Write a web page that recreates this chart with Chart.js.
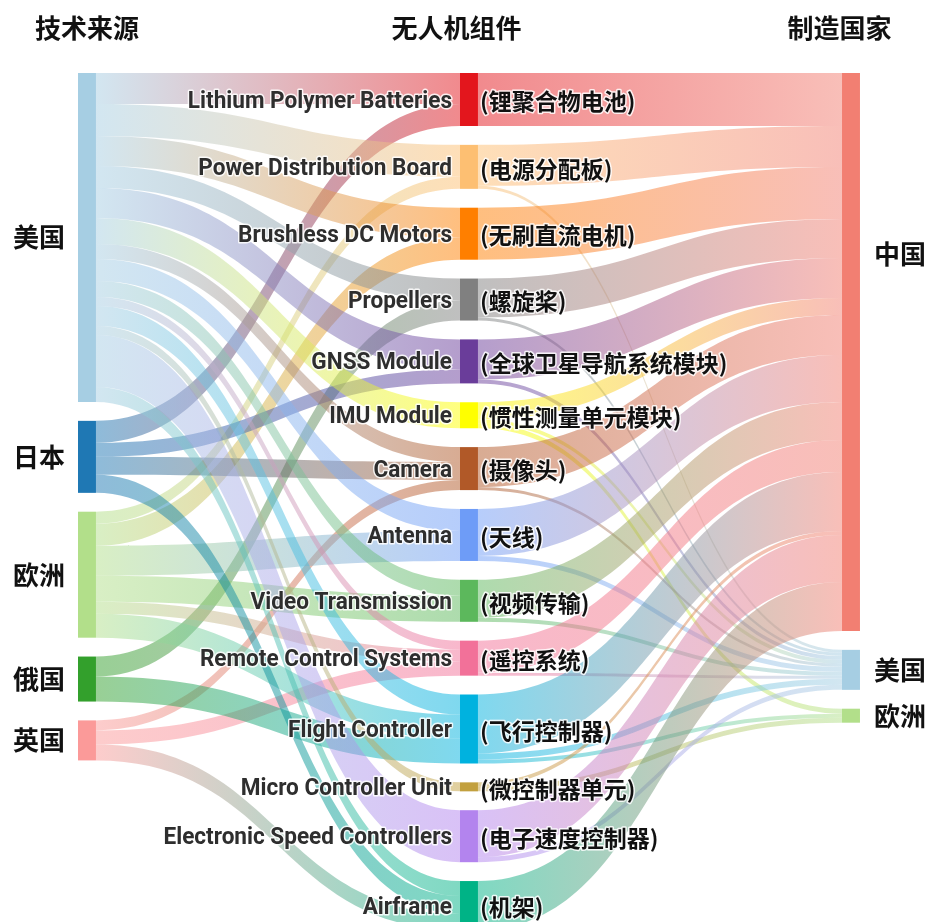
<!DOCTYPE html>
<html>
<head>
<meta charset="utf-8">
<script src="https://cdn.jsdelivr.net/npm/chart.js@4.4.0/dist/chart.umd.min.js"></script>
<style>
  body { margin: 0; background: #fff; }
  #wrap { width: 928px; height: 922px; }
</style>
</head>
<body>
<div id="wrap"><canvas id="sankey" width="928" height="922"></canvas></div>
<script>
const columnTitles = ['技术来源', '无人机组件', '制造国家'];

const sources = ['美国', '日本', '欧洲', '俄国', '英国'];
const sourceColors = ['#a6cee3', '#1f78b4', '#b2df8a', '#33a02c', '#fb9a99'];

const partsEn = ['Lithium Polymer Batteries', 'Power Distribution Board', 'Brushless DC Motors', 'Propellers',
  'GNSS Module', 'IMU Module', 'Camera', 'Antenna', 'Video Transmission', 'Remote Control Systems',
  'Flight Controller', 'Micro Controller Unit', 'Electronic Speed Controllers', 'Airframe'];
const partsZh = ['(锂聚合物电池)', '(电源分配板)', '(无刷直流电机)', '(螺旋桨)', '(全球卫星导航系统模块)', '(惯性测量单元模块)',
  '(摄像头)', '(天线)', '(视频传输)', '(遥控系统)', '(飞行控制器)', '(微控制器单元)', '(电子速度控制器)', '(机架)'];
const partColors = ['#e3161d', '#fdbf72', '#ff7f00', '#808080', '#6a3d9a', '#ffff00', '#b15928',
  '#6e9cf7', '#5cb85c', '#f27199', '#00b2df', '#c2a03e', '#b384ee', '#00b386'];

const makers = ['中国', '美国', '欧洲'];
const makerColors = ['#f27f72', '#a6cee3', '#b2df8a'];

// technology flows, one row per part: 美国, 日本, 欧洲, 俄国, 英国
const techFlows = [
  [31, 22, 0, 0, 0],
  [32, 0, 12, 0, 0],
  [30, 0, 22, 0, 0],
  [22, 0, 0, 20, 0],
  [30, 14, 0, 0, 0],
  [26, 0, 0, 0, 0],
  [15, 18, 0, 0, 10],
  [22, 0, 30, 0, 0],
  [16, 0, 26, 0, 0],
  [9, 0, 12, 0, 14],
  [20, 0, 24, 25, 0],
  [9, 0, 0, 0, 0],
  [52, 0, 0, 0, 0],
  [15, 18, 0, 0, 16]
];

// manufacturing flows, one row per part: 中国, 美国, 欧洲
const makeFlows = [
  [53, 0, 0],
  [41, 3, 0],
  [52, 0, 0],
  [39, 3, 0],
  [40, 4, 0],
  [17, 4, 5],
  [40, 3, 0],
  [47, 5, 0],
  [38, 4, 0],
  [32, 3, 0],
  [59, 6, 4],
  [4, 0, 5],
  [47, 5, 0],
  [49, 0, 0]
];

const nodeGap = 18.85;
const nodeWidth = 0.047;
const linkAlpha = 0.5;

function sum(arr) { return arr.reduce((a, b) => a + b, 0); }

function buildLayout() {
  const cols = [
    sources.map((name, i) => ({ name, color: sourceColors[i], value: sum(techFlows.map(r => r[i])) })),
    partsEn.map((name, j) => ({ name, zh: partsZh[j], color: partColors[j], value: sum(techFlows[j]) })),
    makers.map((name, k) => ({ name, color: makerColors[k], value: sum(makeFlows.map(r => r[k])) }))
  ];
  cols.forEach((col, c) => {
    let y = 0;
    col.forEach(n => { n.col = c; n.y0 = y; n.y1 = y + n.value; y = n.y1 + nodeGap; });
  });

  const links = [];
  techFlows.forEach((row, j) => row.forEach((v, i) => {
    if (v > 0) links.push({ s: cols[0][i], t: cols[1][j], value: v });
  }));
  makeFlows.forEach((row, j) => row.forEach((v, k) => {
    if (v > 0) links.push({ s: cols[1][j], t: cols[2][k], value: v });
  }));

  // stack link ends: outgoing ordered by target, incoming ordered by source
  cols.forEach(col => col.forEach(n => {
    let y = n.y0;
    links.filter(l => l.s === n).sort((a, b) => a.t.y0 - b.t.y0)
      .forEach(l => { l.sy0 = y; y += l.value; l.sy1 = y; });
    y = n.y0;
    links.filter(l => l.t === n).sort((a, b) => a.s.y0 - b.s.y0)
      .forEach(l => { l.ty0 = y; y += l.value; l.ty1 = y; });
  }));
  return { cols, links };
}

function withAlpha(hex, a) {
  const v = parseInt(hex.slice(1), 16);
  return `rgba(${(v >> 16) & 255},${(v >> 8) & 255},${v & 255},${a})`;
}

// condensed label with a soft white outline
function haloText(ctx, text, x, y, squeeze, color) {
  ctx.save();
  ctx.translate(x, y);
  ctx.scale(squeeze, 1);
  ctx.strokeStyle = 'rgba(255,255,255,0.85)';
  ctx.lineWidth = 3;
  ctx.strokeText(text, 0, 0);
  ctx.fillStyle = color;
  ctx.fillText(text, 0, 0);
  ctx.restore();
}

const sankeyLayout = buildLayout();

const sankeyPlugin = {
  id: 'sankeyDraw',
  afterDatasetsDraw(chart) {
    const ctx = chart.ctx;
    const xs = chart.scales.x;
    const ys = chart.scales.y;
    const { cols, links } = sankeyLayout;

    ctx.save();
    links.forEach(l => {
      const x0 = xs.getPixelForValue(l.s.col + nodeWidth);
      const x1 = xs.getPixelForValue(l.t.col);
      const xm = (x0 + x1) / 2;
      const a0 = ys.getPixelForValue(l.sy0), a1 = ys.getPixelForValue(l.sy1);
      const b0 = ys.getPixelForValue(l.ty0), b1 = ys.getPixelForValue(l.ty1);
      const grad = ctx.createLinearGradient(x0, 0, x1, 0);
      grad.addColorStop(0, withAlpha(l.s.color, linkAlpha));
      grad.addColorStop(1, withAlpha(l.t.color, linkAlpha));
      ctx.beginPath();
      ctx.moveTo(x0, a0);
      ctx.bezierCurveTo(xm, a0, xm, b0, x1, b0);
      ctx.lineTo(x1, b1);
      ctx.bezierCurveTo(xm, b1, xm, a1, x0, a1);
      ctx.closePath();
      ctx.fillStyle = grad;
      ctx.fill();
    });

    cols.forEach(col => col.forEach(n => {
      const x0 = xs.getPixelForValue(n.col);
      const x1 = xs.getPixelForValue(n.col + nodeWidth);
      const y0 = ys.getPixelForValue(n.y0);
      const y1 = ys.getPixelForValue(n.y1);
      ctx.fillStyle = n.color;
      ctx.fillRect(x0, y0, x1 - x0, y1 - y0);
    }));

    ctx.textBaseline = 'middle';
    ctx.lineJoin = 'round';
    const cjk = '"Noto Sans CJK SC", "Noto Sans", sans-serif';

    cols[0].forEach(n => {
      ctx.font = 'bold 26px ' + cjk;
      ctx.textAlign = 'right';
      ctx.fillStyle = '#111';
      ctx.fillText(n.name, xs.getPixelForValue(0) - 13, ys.getPixelForValue((n.y0 + n.y1) / 2));
    });

    cols[1].forEach(n => {
      const y = ys.getPixelForValue((n.y0 + n.y1) / 2) + 2;
      ctx.font = 'bold 24px Roboto, "DejaVu Sans", sans-serif';
      ctx.textAlign = 'right';
      haloText(ctx, n.name, xs.getPixelForValue(1) - 8, y, 0.94, '#2e2e2e');
      ctx.font = 'bold 23px ' + cjk;
      ctx.textAlign = 'left';
      haloText(ctx, n.zh, xs.getPixelForValue(1 + nodeWidth) + 2, y, 1, '#111');
    });

    // the 中国 label sits in the upper part of its tall node
    const makerLabelShift = [-98, 0, 0];
    cols[2].forEach((n, k) => {
      ctx.font = 'bold 26px ' + cjk;
      ctx.textAlign = 'left';
      ctx.fillStyle = '#111';
      ctx.fillText(n.name, xs.getPixelForValue(2 + nodeWidth) + 14,
        ys.getPixelForValue((n.y0 + n.y1) / 2 + makerLabelShift[k]));
    });

    const titleShift = [0, -0.033, -0.03];
    ctx.font = 'bold 26px ' + cjk;
    ctx.textAlign = 'center';
    ctx.fillStyle = '#111';
    columnTitles.forEach((t, c) => {
      ctx.fillText(t, xs.getPixelForValue(c + nodeWidth / 2 + titleShift[c]), 28);
    });
    ctx.restore();
  }
};

new Chart(document.getElementById('sankey'), {
  type: 'scatter',
  data: { datasets: [{ data: [] }] },
  options: {
    responsive: false,
    animation: false,
    devicePixelRatio: 1,
    layout: { padding: 0 },
    plugins: { legend: { display: false }, tooltip: { enabled: false } },
    scales: {
      x: { type: 'linear', min: -0.2042, max: 2.2251, display: false },
      y: { type: 'linear', min: -73, max: 849, reverse: true, display: false }
    }
  },
  plugins: [sankeyPlugin]
});
</script>
</body>
</html>
